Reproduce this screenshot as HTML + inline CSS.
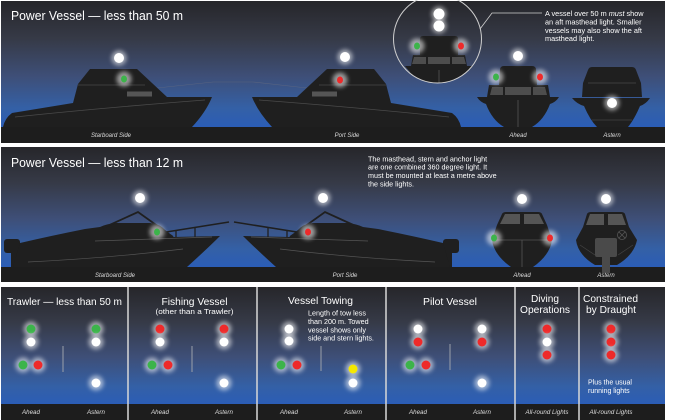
<!DOCTYPE html>
<html><head><meta charset="utf-8"><style>
html,body{margin:0;padding:0;background:#fff;}
svg{display:block;}
text{font-family:"Liberation Sans",Arial,sans-serif;}
</style></head><body>
<svg width="700" height="420" viewBox="0 0 700 420" xmlns="http://www.w3.org/2000/svg">
<defs>
<linearGradient id="sky" x1="0" y1="0" x2="0" y2="1">
<stop offset="0" stop-color="#26262a"/>
<stop offset="0.3" stop-color="#363a47"/>
<stop offset="0.6" stop-color="#3e4f78"/>
<stop offset="0.85" stop-color="#3460a6"/>
<stop offset="1" stop-color="#2b5db6"/>
</linearGradient>
<filter id="g" x="-1" y="-1" width="3" height="3"><feGaussianBlur stdDeviation="2.2"/></filter>
<circle id="h" r="7.5" fill="#fff" opacity="0.55" filter="url(#g)"/>
<clipPath id="ic"><circle cx="437.5" cy="39" r="44"/></clipPath>
</defs>
<rect width="700" height="420" fill="#fff"/>

<!-- ============ PANEL 1 ============ -->
<rect x="1" y="1" width="664" height="126" fill="url(#sky)"/>
<rect x="1" y="127" width="664" height="16" fill="#1d1d1d"/>
<text x="11" y="20" font-size="12.5" fill="#fff" textLength="172" lengthAdjust="spacingAndGlyphs">Power Vessel — less than 50 m</text>

<!-- faint rails -->
<polyline points="157,88 213,82 253,82 307,88" fill="none" stroke="#6a7080" stroke-width="0.6" opacity="0.6"/>

<!-- starboard boat -->
<g id="sb1">
<path d="M3,127 Q5,118 12,113 L73,103 L78,84 L90,69 L137,69 L167,97 L212,97 Q206,112 192,127 Z" fill="#1f1f1f"/>
<path d="M15,117 Q100,108 205,100" fill="none" stroke="#4a4a4a" stroke-width="0.8"/>
<line x1="78" y1="85" x2="145" y2="85" stroke="#4a4a4a" stroke-width="0.8"/>
<rect x="127" y="91.5" width="25" height="5" fill="#555"/>
</g>
<use href="#sb1" transform="translate(464,0) scale(-1,1)"/>

<!-- inset circle -->
<g clip-path="url(#ic)">
<path d="M420,55 L420,39 Q420,36 423,36 L455,36 Q458,36 458,39 L458,55 Z" fill="#1f1f1f"/>
<polygon points="413,55 465,55 467,66 411,66" fill="#1f1f1f"/>
<polygon points="414,57 426,57 426,64 412,64" fill="#4d4d4d"/>
<polygon points="428,57 450,57 450,64 428,64" fill="#4d4d4d"/>
<polygon points="452,57 464,57 466,64 452,64" fill="#4d4d4d"/>
<path d="M405,66 L473,66 L468,72 Q462,85 455,95 L423,95 Q416,85 410,72 Z" fill="#1f1f1f"/>
<line x1="439" y1="70" x2="439" y2="95" stroke="#555" stroke-width="0.8"/>
</g>
<circle cx="437.5" cy="39" r="44" fill="none" stroke="#cfcfcf" stroke-width="1"/>
<polyline points="480,29 492,13 542,13" fill="none" stroke="#cfcfcf" stroke-width="0.8"/>
<g font-size="7.3" fill="#fff">
<text x="545" y="16">A vessel over 50 m <tspan font-style="italic">must</tspan> show</text>
<text x="545" y="24.4">an aft masthead light. Smaller</text>
<text x="545" y="32.8">vessels may also show the aft</text>
<text x="545" y="41.2">masthead light.</text>
</g>

<!-- ahead boat -->
<path d="M499,85 L500,70 Q500,66 504,66 L532,66 Q536,66 536,70 L537,85 Z" fill="#1f1f1f"/>
<polygon points="489,85 548,85 550,97 487,97" fill="#1f1f1f"/>
<polygon points="492,87 503,87 503,95 490,95" fill="#4d4d4d"/>
<polygon points="505,87 531,87 531,95 505,95" fill="#4d4d4d"/>
<polygon points="533,87 545,87 547,95 533,95" fill="#4d4d4d"/>
<path d="M477,97 L559,97 Q556,102 550,104 Q544,120 532,127 L504,127 Q492,120 486,104 Q480,102 477,97 Z" fill="#1f1f1f"/>
<line x1="518" y1="100" x2="518" y2="127" stroke="#555" stroke-width="0.8"/>

<!-- astern boat -->
<path d="M583,83 L588,70 Q589,67 592,67 L632,67 Q635,67 636,70 L641,83 Z" fill="#1f1f1f"/>
<polygon points="583,83 641,83 642,97 582,97" fill="#1f1f1f"/>
<path d="M572,98 L650,98 Q646,104 640,106 Q634,120 628,127 L597,127 Q590,120 584,106 Q577,104 572,98 Z" fill="#1f1f1f"/>
<line x1="588" y1="83" x2="636" y2="83" stroke="#4a4a4a" stroke-width="0.8"/>
<line x1="592" y1="120" x2="632" y2="120" stroke="#444" stroke-width="0.8"/>

<!-- panel 1 lights -->
<use href="#h" x="119" y="58"/><circle cx="119" cy="58" r="5" fill="#fff"/>
<use href="#h" x="124" y="79"/><ellipse cx="124" cy="79" rx="3" ry="3.5" fill="#3cb44a"/>
<use href="#h" x="345" y="57"/><circle cx="345" cy="57" r="5" fill="#fff"/>
<use href="#h" x="340" y="80"/><ellipse cx="340" cy="80" rx="3" ry="3.5" fill="#ee2a2a"/>
<use href="#h" x="439" y="14"/><circle cx="439" cy="14" r="5.5" fill="#fff"/>
<use href="#h" x="439" y="26"/><circle cx="439" cy="26" r="5.5" fill="#fff"/>
<use href="#h" x="417" y="46"/><ellipse cx="417" cy="46" rx="3" ry="3.5" fill="#3cb44a"/>
<use href="#h" x="461" y="46"/><ellipse cx="461" cy="46" rx="3" ry="3.5" fill="#ee2a2a"/>
<use href="#h" x="518" y="56"/><circle cx="518" cy="56" r="5" fill="#fff"/>
<use href="#h" x="496" y="77"/><ellipse cx="496" cy="77" rx="3" ry="3.5" fill="#3cb44a"/>
<use href="#h" x="540" y="77"/><ellipse cx="540" cy="77" rx="3" ry="3.5" fill="#ee2a2a"/>
<use href="#h" x="612" y="103"/><circle cx="612" cy="103" r="5" fill="#fff"/>

<g font-size="6" font-style="italic" fill="#ddd" text-anchor="middle">
<text x="111" y="137">Starboard Side</text>
<text x="347" y="137">Port Side</text>
<text x="518" y="137">Ahead</text>
<text x="612" y="137">Astern</text>
</g>

<!-- ============ PANEL 2 ============ -->
<rect x="1" y="147" width="664" height="120" fill="url(#sky)"/>
<rect x="1" y="267" width="664" height="15" fill="#1d1d1d"/>
<text x="11" y="167" font-size="12.5" fill="#fff" textLength="172" lengthAdjust="spacingAndGlyphs">Power Vessel — less than 12 m</text>
<g font-size="7.2" fill="#fff">
<text x="368" y="161.3">The masthead, stern and anchor light</text>
<text x="368" y="169.7">are one combined 360 degree light. It</text>
<text x="368" y="178.1">must be mounted at least a metre above</text>
<text x="368" y="186.5">the side lights.</text>
</g>

<g id="sb2">
<rect x="4" y="239" width="16" height="14" rx="3" fill="#1f1f1f"/>
<rect x="11" y="251" width="7" height="16" fill="#1f1f1f"/>
<path d="M13,267 L20,243 Q50,236 85,229 L100,227 Q106,224 116,223 L150,223 Q160,224 165,230 L173,237 L220,236 Q208,248 187,267 Z" fill="#1f1f1f"/>
<polyline points="103,228 138,212 173,237" fill="none" stroke="#1f1f1f" stroke-width="1.8"/>
<polyline points="160,233 229,222" fill="none" stroke="#1f1f1f" stroke-width="1.5"/>
<line x1="176" y1="231" x2="176" y2="237" stroke="#1f1f1f" stroke-width="1.3"/>
<line x1="195" y1="228" x2="195" y2="237" stroke="#1f1f1f" stroke-width="1.3"/>
<path d="M28,262 Q110,258 183,249" fill="none" stroke="#555" stroke-width="0.7"/>
<path d="M95,241 L212,237" fill="none" stroke="#555" stroke-width="0.7"/>
</g>
<use href="#sb2" transform="translate(463,0) scale(-1,1)"/>

<!-- ahead small -->
<path d="M497,225 L502,214 Q503,212 506,212 L538,212 Q541,212 542,214 L547,225 Z" fill="#1f1f1f"/>
<polygon points="505,214 520,214 520,224 500,224" fill="#555"/>
<polygon points="524,214 539,214 544,224 524,224" fill="#555"/>
<path d="M497,225 L547,225 L552,240 Q550,255 533,267 L511,267 Q494,255 492,240 Z" fill="#1f1f1f"/>
<line x1="493" y1="240" x2="551" y2="240" stroke="#555" stroke-width="0.8"/>
<line x1="522" y1="240" x2="522" y2="267" stroke="#555" stroke-width="0.8"/>

<!-- astern small -->
<path d="M583,227 L587,214 Q588,212 591,212 L621,212 Q624,212 625,214 L629,227 Z" fill="#1f1f1f"/>
<polygon points="590,214 604,214 604,225 586,225" fill="#555"/>
<polygon points="608,214 622,214 626,225 608,225" fill="#555"/>
<path d="M583,227 L629,227 L637,240 Q634,255 617,265 L595,265 Q578,255 576,240 Z" fill="#1f1f1f"/>
<line x1="580" y1="245" x2="595" y2="255" stroke="#444" stroke-width="0.7"/>
<line x1="633" y1="245" x2="618" y2="255" stroke="#444" stroke-width="0.7"/>
<rect x="595" y="238" width="22" height="19" rx="2" fill="#4a4a4a"/>
<rect x="602" y="257" width="8" height="16" fill="#4a4a4a"/>
<circle cx="622" cy="235" r="4.5" fill="none" stroke="#555" stroke-width="0.8"/>
<line x1="619" y1="232" x2="625" y2="238" stroke="#555" stroke-width="0.8"/>
<line x1="625" y1="232" x2="619" y2="238" stroke="#555" stroke-width="0.8"/>

<!-- panel 2 lights -->
<use href="#h" x="140" y="198"/><circle cx="140" cy="198" r="5" fill="#fff"/>
<use href="#h" x="157" y="232"/><ellipse cx="157" cy="232" rx="3" ry="3.5" fill="#3cb44a"/>
<use href="#h" x="323" y="198"/><circle cx="323" cy="198" r="5" fill="#fff"/>
<use href="#h" x="308" y="232"/><ellipse cx="308" cy="232" rx="3" ry="3.5" fill="#ee2a2a"/>
<use href="#h" x="522" y="199"/><circle cx="522" cy="199" r="5" fill="#fff"/>
<use href="#h" x="494" y="238"/><ellipse cx="494" cy="238" rx="3" ry="3.5" fill="#3cb44a"/>
<use href="#h" x="550" y="238"/><ellipse cx="550" cy="238" rx="3" ry="3.5" fill="#ee2a2a"/>
<use href="#h" x="606" y="199"/><circle cx="606" cy="199" r="5" fill="#fff"/>

<g font-size="6" font-style="italic" fill="#ddd" text-anchor="middle">
<text x="115" y="277">Starboard Side</text>
<text x="345" y="277">Port Side</text>
<text x="522" y="277">Ahead</text>
<text x="606" y="277">Astern</text>
</g>

<!-- ============ PANEL 3 ============ -->
<rect x="1" y="287" width="664" height="117" fill="url(#sky)"/>
<rect x="1" y="404" width="664" height="16" fill="#1d1d1d"/>
<g stroke="#d8d8d8" stroke-width="1.5">
<line x1="128" y1="287" x2="128" y2="420"/>
<line x1="257" y1="287" x2="257" y2="420"/>
<line x1="386" y1="287" x2="386" y2="420"/>
<line x1="515" y1="287" x2="515" y2="420"/>
<line x1="579" y1="287" x2="579" y2="420"/>
</g>
<g stroke="#9aa0aa" stroke-width="1">
<line x1="63" y1="346" x2="63" y2="372"/>
<line x1="192" y1="346" x2="192" y2="372"/>
<line x1="321" y1="346" x2="321" y2="371"/>
<line x1="450" y1="344" x2="450" y2="370"/>
</g>

<g fill="#fff" font-size="10.5" text-anchor="middle">
<text x="64.5" y="305" textLength="115" lengthAdjust="spacingAndGlyphs">Trawler — less than 50 m</text>
<text x="194.5" y="305" textLength="66" lengthAdjust="spacingAndGlyphs">Fishing Vessel</text>
<text x="320.5" y="304" textLength="65" lengthAdjust="spacingAndGlyphs">Vessel Towing</text>
<text x="450" y="305" textLength="54" lengthAdjust="spacingAndGlyphs">Pilot Vessel</text>
<text x="545" y="302" textLength="28" lengthAdjust="spacingAndGlyphs">Diving</text>
<text x="545" y="313" textLength="50" lengthAdjust="spacingAndGlyphs">Operations</text>
<text x="610.5" y="302" textLength="55" lengthAdjust="spacingAndGlyphs">Constrained</text>
<text x="611" y="313" textLength="50" lengthAdjust="spacingAndGlyphs">by Draught</text>
</g>
<text x="194.5" y="314" font-size="7.5" fill="#fff" text-anchor="middle" textLength="78" lengthAdjust="spacingAndGlyphs">(other than a Trawler)</text>
<g font-size="7.2" fill="#fff">
<text x="308" y="315.7">Length of tow less</text>
<text x="308" y="324">than 200 m. Towed</text>
<text x="308" y="332.3">vessel shows only</text>
<text x="308" y="340.6">side and stern lights.</text>
<text x="588" y="384.3" font-size="7">Plus the usual</text>
<text x="588" y="393" font-size="7">running lights</text>
</g>

<!-- panel 3 lights -->
<!-- trawler -->
<use href="#h" x="31" y="329"/><circle cx="31" cy="329" r="4.5" fill="#3cb44a"/>
<use href="#h" x="31" y="342"/><circle cx="31" cy="342" r="4.5" fill="#fff"/>
<use href="#h" x="23" y="365"/><circle cx="23" cy="365" r="4.5" fill="#3cb44a"/>
<use href="#h" x="38" y="365"/><circle cx="38" cy="365" r="4.5" fill="#ee2a2a"/>
<use href="#h" x="96" y="329"/><circle cx="96" cy="329" r="4.5" fill="#3cb44a"/>
<use href="#h" x="96" y="342"/><circle cx="96" cy="342" r="4.5" fill="#fff"/>
<use href="#h" x="96" y="383"/><circle cx="96" cy="383" r="4.5" fill="#fff"/>
<!-- fishing -->
<use href="#h" x="160" y="329"/><circle cx="160" cy="329" r="4.5" fill="#ee2a2a"/>
<use href="#h" x="160" y="342"/><circle cx="160" cy="342" r="4.5" fill="#fff"/>
<use href="#h" x="152" y="365"/><circle cx="152" cy="365" r="4.5" fill="#3cb44a"/>
<use href="#h" x="168" y="365"/><circle cx="168" cy="365" r="4.5" fill="#ee2a2a"/>
<use href="#h" x="224" y="329"/><circle cx="224" cy="329" r="4.5" fill="#ee2a2a"/>
<use href="#h" x="224" y="342"/><circle cx="224" cy="342" r="4.5" fill="#fff"/>
<use href="#h" x="224" y="383"/><circle cx="224" cy="383" r="4.5" fill="#fff"/>
<!-- towing -->
<use href="#h" x="289" y="329"/><circle cx="289" cy="329" r="4.5" fill="#fff"/>
<use href="#h" x="289" y="341"/><circle cx="289" cy="341" r="4.5" fill="#fff"/>
<use href="#h" x="281" y="365"/><circle cx="281" cy="365" r="4.5" fill="#3cb44a"/>
<use href="#h" x="297" y="365"/><circle cx="297" cy="365" r="4.5" fill="#ee2a2a"/>
<use href="#h" x="353" y="369"/><circle cx="353" cy="369" r="4.5" fill="#f5e800"/>
<use href="#h" x="353" y="383"/><circle cx="353" cy="383" r="4.5" fill="#fff"/>
<!-- pilot -->
<use href="#h" x="418" y="329"/><circle cx="418" cy="329" r="4.5" fill="#fff"/>
<use href="#h" x="418" y="342"/><circle cx="418" cy="342" r="4.5" fill="#ee2a2a"/>
<use href="#h" x="410" y="365"/><circle cx="410" cy="365" r="4.5" fill="#3cb44a"/>
<use href="#h" x="426" y="365"/><circle cx="426" cy="365" r="4.5" fill="#ee2a2a"/>
<use href="#h" x="482" y="329"/><circle cx="482" cy="329" r="4.5" fill="#fff"/>
<use href="#h" x="482" y="342"/><circle cx="482" cy="342" r="4.5" fill="#ee2a2a"/>
<use href="#h" x="482" y="383"/><circle cx="482" cy="383" r="4.5" fill="#fff"/>
<!-- diving -->
<use href="#h" x="547" y="329"/><circle cx="547" cy="329" r="4.5" fill="#ee2a2a"/>
<use href="#h" x="547" y="342"/><circle cx="547" cy="342" r="4.5" fill="#fff"/>
<use href="#h" x="547" y="355"/><circle cx="547" cy="355" r="4.5" fill="#ee2a2a"/>
<!-- draught -->
<use href="#h" x="611" y="329"/><circle cx="611" cy="329" r="4.5" fill="#ee2a2a"/>
<use href="#h" x="611" y="342"/><circle cx="611" cy="342" r="4.5" fill="#ee2a2a"/>
<use href="#h" x="611" y="355"/><circle cx="611" cy="355" r="4.5" fill="#ee2a2a"/>

<g font-size="6.2" font-style="italic" fill="#ddd" text-anchor="middle">
<text x="31" y="414">Ahead</text>
<text x="96" y="414">Astern</text>
<text x="160" y="414">Ahead</text>
<text x="224" y="414">Astern</text>
<text x="289" y="414">Ahead</text>
<text x="353" y="414">Astern</text>
<text x="418" y="414">Ahead</text>
<text x="482" y="414">Astern</text>
<text x="547" y="414">All-round Lights</text>
<text x="611" y="414">All-round Lights</text>
</g>
</svg>
</body></html>
